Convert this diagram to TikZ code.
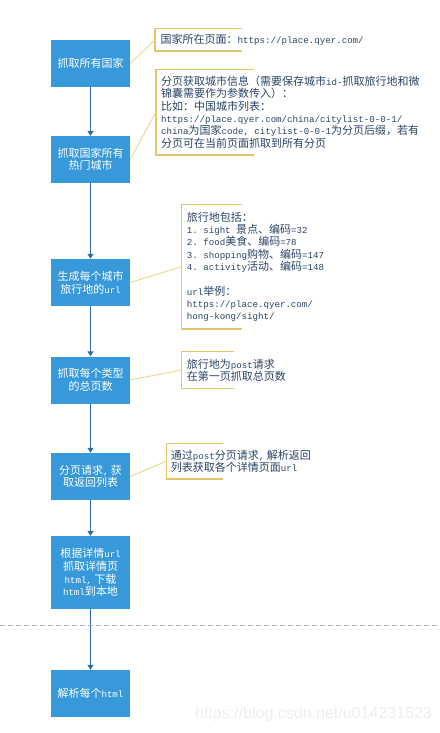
\documentclass[tikz,border=0pt]{standalone}
\usepackage{fontspec}
\setmainfont{Noto Sans CJK SC}
\setmonofont{Liberation Mono}[Scale=0.83]
\newfontfamily\wmfont{Liberation Sans}
\usetikzlibrary{arrows.meta}
\definecolor{boxblue}{HTML}{3799DA}
\definecolor{flowblue}{HTML}{2E6DA4}
\definecolor{linkgold}{HTML}{F0D48C}
\definecolor{brgold}{HTML}{E6C46C}
\definecolor{notetext}{HTML}{2A4466}
\definecolor{dashgray}{HTML}{B4B4B4}
\definecolor{wmgray}{HTML}{EFEFEF}
\newcommand\mono[1]{{\ttfamily #1}}
\tikzset{
  stepbox/.style={fill=boxblue, draw=none, minimum width=79pt, minimum height=47pt,
    inner sep=0pt, text=white, align=center, font=\fontsize{11}{12.6}\selectfont},
  flow/.style={draw=flowblue, line width=1.2pt, -{Triangle[length=5pt,width=6pt]}},
  notelink/.style={draw=linkgold, line width=0.9pt},
  bracket/.style={draw=brgold, line width=1.1pt},
  notetxt/.style={anchor=west, inner sep=0pt, align=left, text=notetext,
    font=\fontsize{11}{12.3}\selectfont},
}
\begin{document}
\begin{tikzpicture}[x=1pt,y=-1pt]
\useasboundingbox (0,0) rectangle (439,733);
\fill[white] (0,0) rectangle (439,733);

% process boxes
\node[stepbox] (b1) at (90.5,63.5) {抓取所有国家};
\node[stepbox] (b2) at (90.5,159.5) {抓取国家所有\\热门城市};
\node[stepbox] (b3) at (90.5,282.5) {生成每个城市\\旅行地的\mono{url}};
\node[stepbox] (b4) at (90.5,380) {抓取每个类型\\的总页数};
\node[stepbox] (b5) at (90.5,476.5) {分页请求\mono{,} 获\\取返回列表};
\node[stepbox, minimum height=73pt] (b6) at (90.5,572.5) {根据详情\mono{url}\\抓取详情页\\\mono{html,} 下载\\\mono{html}到本地};
\node[stepbox] (b7) at (90.5,693.5) {解析每个\mono{html}};

\draw[flow] (b1) -- (b2);
\draw[flow] (b2) -- (b3);
\draw[flow] (b3) -- (b4);
\draw[flow] (b4) -- (b5);
\draw[flow] (b5) -- (b6);
\draw[flow] (b6) -- (b7);

% dashed separator
\coordinate (dl) at (0,625);
\coordinate (dr) at (439,625);
\draw[dashgray, line width=0.9pt, dash pattern=on 5pt off 3pt] (dl) -- (dr);

% note 1
\coordinate (c1) at (155,39.7);
\draw[bracket] (242,28.3) -- (155,28.3) -- (155,51) -- (242,51);
\node[notetxt] (n1) at (160.5,39.7) {国家所在页面：\mono{https://place.qyer.com/}};
\draw[notelink] (b1.east) -- (c1);

% note 2
\coordinate (c2) at (156,112);
\draw[bracket] (254,69.3) -- (156,69.3) -- (156,155) -- (254,155);
\node[notetxt] (n2) at (161,112) {分页获取城市信息（需要保存城市\mono{id-}抓取旅行地和微\\
锦囊需要作为参数传入）：\\
比如：中国城市列表：\\
\mono{https://place.qyer.com/china/citylist-0-0-1/}\\
\mono{china}为国家\mono{code, citylist-0-0-1}为分页后缀，若有\\
分页可在当前页面抓取到所有分页};
\draw[notelink] (b2.east) -- (c2);

% note 3
\coordinate (c3) at (181.7,266.7);
\draw[bracket] (241.7,204.3) -- (181.7,204.3) -- (181.7,329) -- (241.7,329);
\node[notetxt] (n3) at (186.7,266.7) {旅行地包括：\\
\mono{1. sight }景点、编码\mono{=32}\\
\mono{2. food}美食、编码\mono{=78}\\
\mono{3. shopping}购物、编码\mono{=147}\\
\mono{4. activity}活动、编码\mono{=148}\\
~\\
\mono{url}举例：\\
\mono{https://place.qyer.com/}\\
\mono{hong-kong/sight/}};
\draw[notelink] (b3.east) -- (c3);

% note 4
\coordinate (c4) at (181.7,370);
\draw[bracket] (234,351.7) -- (181.7,351.7) -- (181.7,388.3) -- (234,388.3);
\node[notetxt] (n4) at (186.7,370) {旅行地为\mono{post}请求\\在第一页抓取总页数};
\draw[notelink] (b4.east) -- (c4);

% note 5
\coordinate (c5) at (166.7,461);
\draw[bracket] (223,443.3) -- (166.7,443.3) -- (166.7,479) -- (223,479);
\node[notetxt] (n5) at (170.7,461) {通过\mono{post}分页请求\mono{,} 解析返回\\列表获取各个详情页面\mono{url}};
\draw[notelink] (b5.east) -- (c5);

% watermark
\node[anchor=west, inner sep=0pt, text=wmgray, font=\wmfont\fontsize{16}{18}\selectfont] (wm) at (195,714) {https://blog.csdn.net/u014231523};
\end{tikzpicture}
\end{document}
